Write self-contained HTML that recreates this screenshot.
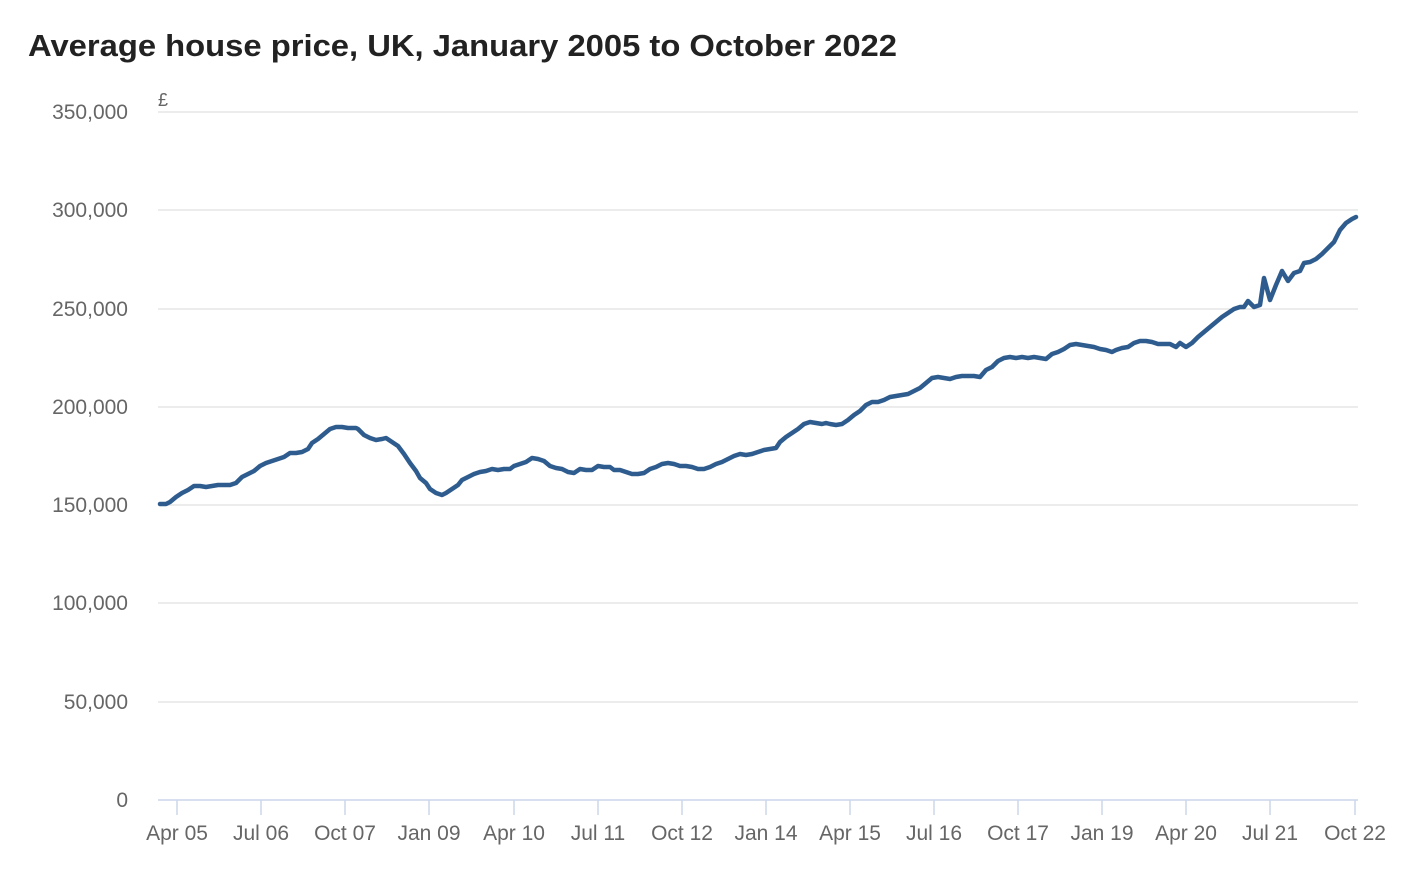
<!DOCTYPE html>
<html><head><meta charset="utf-8"><style>
body{margin:0;background:#fff;width:1412px;height:878px;overflow:hidden}
svg{display:block}
text{font-family:"Liberation Sans",sans-serif}
</style></head><body>
<svg width="1412" height="878" viewBox="0 0 1412 878">
<text x="28" y="56" font-size="31" font-weight="bold" fill="#222" textLength="869" lengthAdjust="spacingAndGlyphs">Average house price, UK, January 2005 to October 2022</text>
<g stroke="#e0e0e0" stroke-width="1.2">
<line x1="158" x2="1358" y1="112" y2="112"/><line x1="158" x2="1358" y1="210" y2="210"/>
<line x1="158" x2="1358" y1="309" y2="309"/><line x1="158" x2="1358" y1="407" y2="407"/>
<line x1="158" x2="1358" y1="505" y2="505"/><line x1="158" x2="1358" y1="603" y2="603"/>
<line x1="158" x2="1358" y1="702" y2="702"/>
</g>
<line x1="158" x2="1358" y1="800" y2="800" stroke="#ccd6eb" stroke-width="1.5"/>
<g stroke="#ccd6eb" stroke-width="1.5">
<line x1="177" x2="177" y1="800" y2="815"/><line x1="261" x2="261" y1="800" y2="815"/>
<line x1="345" x2="345" y1="800" y2="815"/><line x1="429" x2="429" y1="800" y2="815"/>
<line x1="514" x2="514" y1="800" y2="815"/><line x1="598" x2="598" y1="800" y2="815"/>
<line x1="682" x2="682" y1="800" y2="815"/><line x1="766" x2="766" y1="800" y2="815"/>
<line x1="850" x2="850" y1="800" y2="815"/><line x1="934" x2="934" y1="800" y2="815"/>
<line x1="1018" x2="1018" y1="800" y2="815"/><line x1="1102" x2="1102" y1="800" y2="815"/>
<line x1="1186" x2="1186" y1="800" y2="815"/><line x1="1270" x2="1270" y1="800" y2="815"/>
<line x1="1355" x2="1355" y1="800" y2="815"/>
</g>
<g font-size="21" fill="#666" text-anchor="end">
<text x="128" y="119">350,000</text><text x="128" y="217">300,000</text>
<text x="128" y="316">250,000</text><text x="128" y="414">200,000</text>
<text x="128" y="512">150,000</text><text x="128" y="610">100,000</text>
<text x="128" y="709">50,000</text><text x="128" y="807">0</text>
</g>
<text x="158" y="106" font-size="18" fill="#666">£</text>
<g font-size="21" fill="#666" text-anchor="middle">
<text x="177" y="840">Apr 05</text><text x="261" y="840">Jul 06</text><text x="345" y="840">Oct 07</text>
<text x="429" y="840">Jan 09</text><text x="514" y="840">Apr 10</text><text x="598" y="840">Jul 11</text>
<text x="682" y="840">Oct 12</text><text x="766" y="840">Jan 14</text><text x="850" y="840">Apr 15</text>
<text x="934" y="840">Jul 16</text><text x="1018" y="840">Oct 17</text><text x="1102" y="840">Jan 19</text>
<text x="1186" y="840">Apr 20</text><text x="1270" y="840">Jul 21</text><text x="1355" y="840">Oct 22</text>
</g>
<polyline fill="none" stroke="#2e5c8e" stroke-width="4.5" stroke-linejoin="round" stroke-linecap="round" points="160,504 166,504 170,502 176,497 182,493 188,490 194,486 200,486 206,487 212,486 218,485 224,485 230,485 236,483 242,477 248,474 254,471 260,466 266,463 272,461 278,459 284,457 290,453 296,453 302,452 308,449 312,443 318,439 324,434 330,429 336,427 342,427 348,428 356,428 358,429 364,435 370,438 376,440 382,439 386,438 392,442 398,446 404,454 410,463 416,471 420,478 426,483 430,489 436,493 442,495 446,493 452,489 458,485 462,480 468,477 474,474 480,472 486,471 492,469 498,470 504,469 510,469 514,466 520,464 526,462 532,458 538,459 544,461 550,466 556,468 562,469 568,472 574,473 580,469 586,470 592,470 598,466 604,467 610,467 614,470 620,470 626,472 632,474 638,474 644,473 650,469 656,467 662,464 668,463 674,464 680,466 686,466 692,467 698,469 704,469 710,467 716,464 722,462 728,459 734,456 740,454 746,455 752,454 758,452 764,450 770,449 776,448 780,442 786,437 792,433 798,429 804,424 810,422 816,423 822,424 826,423 830,424 836,425 842,424 848,420 854,415 860,411 866,405 872,402 878,402 884,400 890,397 896,396 902,395 908,394 914,391 920,388 926,383 932,378 938,377 944,378 950,379 956,377 962,376 968,376 974,376 980,377 986,370 992,367 998,361 1004,358 1010,357 1016,358 1022,357 1028,358 1034,357 1040,358 1046,359 1052,354 1058,352 1064,349 1070,345 1076,344 1082,345 1088,346 1094,347 1100,349 1106,350 1112,352 1116,350 1122,348 1128,347 1134,343 1140,341 1146,341 1152,342 1158,344 1164,344 1170,344 1176,347 1180,343 1186,347 1192,343 1198,337 1204,332 1210,327 1216,322 1222,317 1228,313 1234,309 1240,307 1244,307 1248,301 1254,307 1260,305 1264,278 1270,300 1276,285 1282,271 1288,281 1294,273 1300,271 1304,263 1310,262 1316,259 1322,254 1328,248 1334,242 1340,230 1346,223 1352,219 1356,217"/>
</svg>
</body></html>
